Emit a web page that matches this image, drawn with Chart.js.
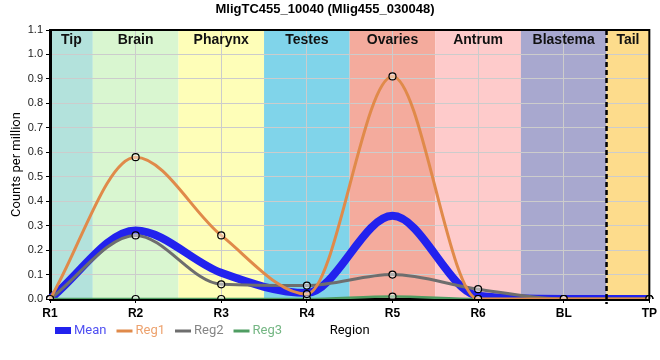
<!DOCTYPE html>
<html>
<head>
<meta charset="utf-8">
<script src="https://cdn.jsdelivr.net/npm/chart.js@4.4.0/dist/chart.umd.min.js"></script>
<style>
  html, body { margin: 0; padding: 0; background: #fff; }
  #wrap { width: 660px; height: 360px; }
</style>
</head>
<body>
<div id="wrap"><canvas id="chart" width="660" height="360"></canvas></div>
<script>
// values
const regions = ['R1', 'R2', 'R3', 'R4', 'R5', 'R6', 'BL', 'TP'];
const meanValues = [0, 0.28, 0.107, 0.025, 0.34, 0.013, 0, 0];
const reg1Values = [0, 0.58, 0.26, 0.02, 0.91, 0, 0, 0];
const reg2Values = [0, 0.26, 0.06, 0.055, 0.10, 0.04, 0, 0];
const reg3Values = [0, 0, 0, 0, 0.01, 0, 0, 0];
const tissues = ['Tip', 'Brain', 'Pharynx', 'Testes', 'Ovaries', 'Antrum', 'Blastema', 'Tail'];

const yMax = 1.1;
const yStep = 0.1;

const tissueColors = ['#b3e2dc', '#d9f6d0', '#fefeb8', '#80d4ea', '#f4ab9d', '#fecbcb', '#a8a8cf', '#fddc8c'];
const legendTextColors = ['#5050f2', '#eda26e', '#858585', '#74b683'];
const fontFamily = '"Liberation Sans", Arial, sans-serif';
const legendFont = 'Roboto, "Liberation Sans", sans-serif';

const tissuePlugin = {
  id: 'tissuePlugin',
  beforeDraw(chart) {
    const { ctx, chartArea: a, scales: { x } } = chart;
    ctx.save();
    tissues.forEach((name, i) => {
      const left = Math.max(a.left, x.getPixelForValue(i - 0.5));
      const right = Math.min(a.right, x.getPixelForValue(i + 0.5));
      ctx.fillStyle = tissueColors[i];
      ctx.fillRect(left, a.top, right - left, a.bottom - a.top);
    });
    ctx.restore();
  },
  beforeDatasetsDraw(chart) {
    const { ctx, chartArea: a, scales: { x } } = chart;
    ctx.save();
    ctx.font = 'bold 14px ' + fontFamily;
    ctx.fillStyle = '#111';
    ctx.textAlign = 'center';
    ctx.textBaseline = 'middle';
    tissues.forEach((name, i) => {
      const left = Math.max(a.left, x.getPixelForValue(i - 0.5));
      const right = Math.min(a.right, x.getPixelForValue(i + 0.5));
      ctx.fillText(name, (left + right) / 2, a.top + 10);
    });
    ctx.restore();
  },
  afterDatasetsDraw(chart) {
    const { ctx, chartArea: a, scales: { x } } = chart;
    ctx.save();
    // dashed divider before the tail
    const dx = x.getPixelForValue(regions.length - 1.5);
    ctx.strokeStyle = '#000';
    ctx.lineWidth = 2.5;
    ctx.setLineDash([5, 3]);
    ctx.beginPath();
    ctx.moveTo(dx, a.top);
    ctx.lineTo(dx, a.bottom + 5);
    ctx.stroke();
    // top and right frame
    ctx.setLineDash([]);
    ctx.lineWidth = 2;
    ctx.beginPath();
    ctx.moveTo(a.left, a.top);
    ctx.lineTo(a.right, a.top);
    ctx.lineTo(a.right, a.bottom);
    ctx.stroke();
    ctx.restore();
  },
  afterDraw(chart) {
    const { ctx } = chart;
    ctx.save();
    ctx.font = '13px ' + legendFont;
    ctx.textBaseline = 'middle';
    let lx = 55;
    const ly = 331;
    chart.data.datasets.forEach((ds, i) => {
      ctx.fillStyle = ds.borderColor;
      if (i === 0) {
        ctx.fillRect(lx, ly - 4, 16, 7);
      } else {
        ctx.fillRect(lx, ly - 1.5, 16, 3);
      }
      lx += 19;
      ctx.fillStyle = legendTextColors[i];
      ctx.fillText(ds.label, lx, ly);
      lx += ctx.measureText(ds.label).width + 10;
    });
    ctx.restore();
  }
};

const pointStyle = {
  pointRadius: 3.5,
  pointBorderColor: '#000',
  pointBorderWidth: 1.2,
  pointBackgroundColor: 'rgba(255,255,255,0.45)',
  pointHoverRadius: 3.5
};

new Chart(document.getElementById('chart'), {
  type: 'line',
  data: {
    labels: regions,
    datasets: [
      {
        label: 'Mean',
        data: meanValues,
        borderColor: '#2222ee',
        borderWidth: 8,
        pointRadius: 0,
        cubicInterpolationMode: 'monotone',
        order: 1
      },
      {
        label: 'Reg1',
        data: reg1Values,
        borderColor: '#e08a4a',
        borderWidth: 3,
        cubicInterpolationMode: 'monotone',
        order: 0,
        ...pointStyle
      },
      {
        label: 'Reg2',
        data: reg2Values,
        borderColor: '#6e6e6e',
        borderWidth: 3,
        cubicInterpolationMode: 'monotone',
        order: 0,
        ...pointStyle
      },
      {
        label: 'Reg3',
        data: reg3Values,
        borderColor: '#4f9d62',
        borderWidth: 2.5,
        cubicInterpolationMode: 'monotone',
        order: 0,
        ...pointStyle
      }
    ]
  },
  options: {
    responsive: false,
    animation: false,
    devicePixelRatio: 1,
    layout: { padding: { top: 0, right: 10, left: 0, bottom: 0 } },
    plugins: {
      legend: { display: false },
      tooltip: { enabled: false },
      title: {
        display: true,
        text: 'MligTC455_10040 (Mlig455_030048)',
        color: '#000',
        font: { family: fontFamily, size: 13, weight: 'bold' },
        padding: { top: 2, bottom: 12.4 }
      }
    },
    scales: {
      x: {
        afterFit: (scale) => { scale.height = 61; },
        grid: { color: '#cccccc', tickLength: 4, tickColor: '#000' },
        border: { color: '#000', width: 3 },
        ticks: {
          color: '#000',
          padding: 3,
          font: { family: fontFamily, size: 12, weight: 'bold' }
        },
        title: {
          display: true,
          text: 'Region',
          color: '#000',
          font: { family: legendFont, size: 13 },
          padding: { top: 0, bottom: 21 }
        }
      },
      y: {
        min: 0,
        max: yMax,
        afterFit: (scale) => { scale.width = 50; },
        grid: { color: '#cccccc', tickLength: 4, tickColor: '#000' },
        border: { color: '#000', width: 3 },
        ticks: {
          stepSize: yStep,
          color: '#222',
          padding: 3,
          font: { family: fontFamily, size: 11 },
          callback: (v) => v.toFixed(1)
        },
        title: {
          display: true,
          text: 'Counts per million',
          color: '#000',
          font: { family: legendFont, size: 13 },
          padding: { top: 9, bottom: 0 }
        }
      }
    }
  },
  plugins: [tissuePlugin]
});
</script>
</body>
</html>
